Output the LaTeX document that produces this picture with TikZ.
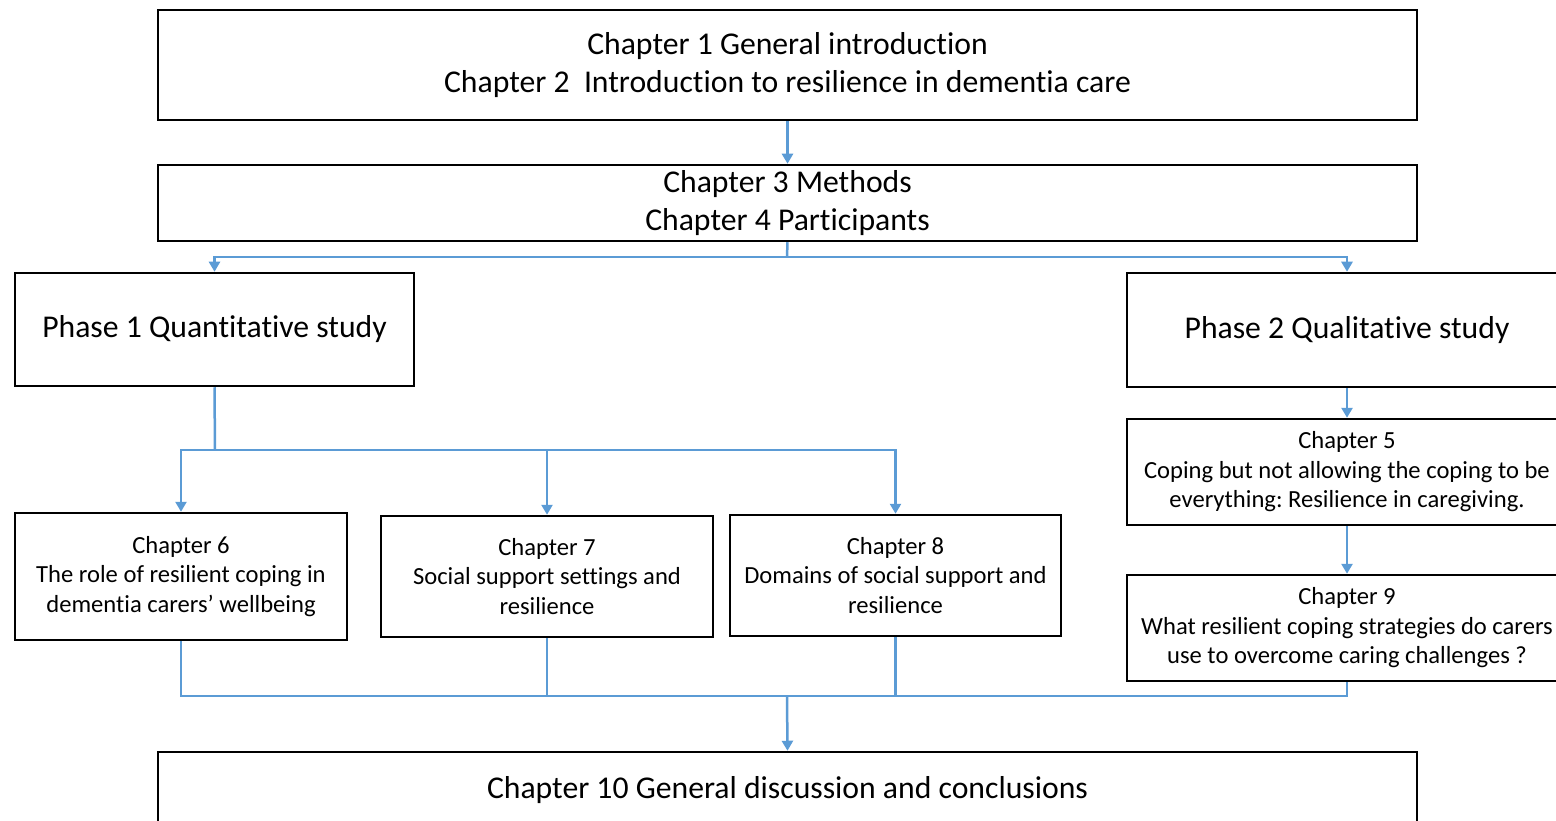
\documentclass[tikz,border=0pt]{standalone}
\usepackage{fontspec}
\setmainfont{Carlito}[Ligatures=NoCommon]
\usetikzlibrary{arrows.meta}
\definecolor{flow}{HTML}{5B9BD5}
\frenchspacing
\begin{document}
\begin{tikzpicture}[x=1pt,y=-1pt,
  box/.style={draw=black,line width=2.5pt,inner sep=0pt,align=center,fill=white},
  bigtext/.style={font=\fontsize{31.7}{38}\selectfont},
  smalltext/.style={font=\fontsize{24.6}{29.5}\selectfont},
  flowline/.style={draw=flow,line width=2.5pt},
  flowarrow/.style={flowline,-{Triangle[length=10pt,width=11pt]}}]
\clip (0,0) rectangle (1556,821);
\fill[white] (0,0) rectangle (1556,821);

% chapter boxes
\node[box,bigtext,minimum width=1259pt,minimum height=110pt] (intro) at (787.5,65)
  {Chapter 1 General introduction\\Chapter 2\ \ Introduction to resilience in dementia care};
\node[box,bigtext,minimum width=1259pt,minimum height=76pt] (methods) at (787.5,203)
  {Chapter 3 Methods\\Chapter 4 Participants};
\node[box,bigtext,minimum width=399pt,minimum height=113pt] (phase1) at (214.5,329.5)
  {Phase 1 Quantitative study};
\node[box,bigtext,minimum width=440pt,minimum height=114pt] (phase2) at (1347,330)
  {Phase 2 Qualitative study};
\node[box,smalltext,minimum width=440pt,minimum height=106pt] (ch5) at (1347,472)
  {Chapter 5\\Coping but not allowing the coping to be\\everything: Resilience in caregiving.};
\node[box,smalltext,minimum width=440pt,minimum height=106pt] (ch9) at (1347,628)
  {Chapter 9\\What resilient coping strategies do carers\\use to overcome caring challenges ?};
\node[box,smalltext,minimum width=332pt,minimum height=127pt] (ch6) at (181,576.5)
  {Chapter 6\\The role of resilient coping in\\dementia carers' wellbeing};
\node[box,smalltext,minimum width=332pt,minimum height=121pt] (ch7) at (547,576.5)
  {Chapter 7\\Social support settings and\\resilience};
\node[box,smalltext,minimum width=331pt,minimum height=121pt] (ch8) at (895.5,575.5)
  {Chapter 8\\Domains of social support and\\resilience};
\node[box,bigtext,minimum width=1259pt,minimum height=76pt] (concl) at (787.5,790)
  {Chapter 10 General discussion and conclusions};

% junction points
\coordinate (j1) at (787,257);
\coordinate (j2) at (215,450);
\coordinate (j3) at (787,696);

% connectors
\draw[flowarrow] (intro.south) -- (methods.north);
\draw[flowline] (methods.south) -- (j1);
\draw[flowarrow] (j1) -| (phase1.north);
\draw[flowarrow] (j1) -| (phase2.north);
\draw[flowline] (phase1.south) -- (j2);
\draw[flowarrow] (j2) -| (ch6.north);
\draw[flowarrow] (j2) -| (ch7.north);
\draw[flowarrow] (j2) -| (ch8.north);
\draw[flowarrow] (phase2.south) -- (ch5.north);
\draw[flowarrow] (ch5.south) -- (ch9.north);
\draw[flowline] (ch6.south) |- (j3);
\draw[flowline] (ch7.south) |- (j3);
\draw[flowline] (ch8.south) |- (j3);
\draw[flowline] (ch9.south) |- (j3);
\draw[flowarrow] (j3) -- (concl.north);
\end{tikzpicture}
\end{document}
